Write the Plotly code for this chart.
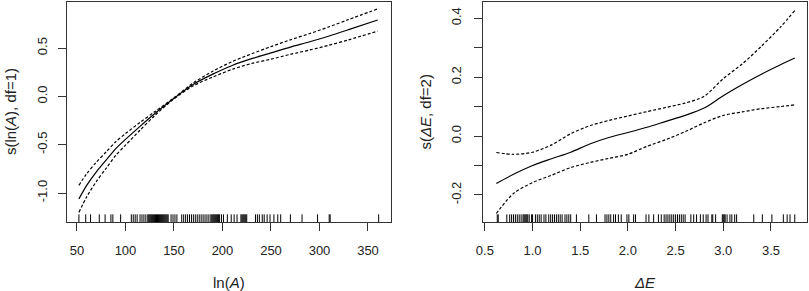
import plotly.graph_objects as go

# left panel: smooth term for ln(A)
lnA_x = [52, 60, 70, 80, 90, 100, 115, 130, 150, 170, 190, 210, 230, 250, 270, 290, 310, 330, 360]
lnA_fit = [-1.06, -0.92, -0.78, -0.66, -0.54, -0.445, -0.31, -0.18, -0.02, 0.125, 0.23, 0.32,
           0.39, 0.45, 0.51, 0.565, 0.625, 0.69, 0.79]
lnA_upper = [-0.92, -0.80, -0.68, -0.575, -0.47, -0.385, -0.27, -0.16, -0.015, 0.14, 0.26, 0.36,
             0.44, 0.515, 0.585, 0.65, 0.72, 0.795, 0.905]
lnA_lower = [-1.20, -1.04, -0.88, -0.745, -0.61, -0.505, -0.35, -0.20, -0.025, 0.11, 0.20, 0.28,
             0.34, 0.385, 0.435, 0.48, 0.53, 0.585, 0.675]
lnA_rug = [52, 59, 64, 73, 79, 85, 87, 95, 106, 108, 110, 112, 115, 117, 119, 121, 123, 124, 125,
           126, 127, 128, 129, 130, 131, 132, 133, 134, 135, 136, 137, 138, 139, 140, 141, 142, 143,
           144, 147, 149, 151, 153, 158, 160, 162, 164, 166, 168, 170, 172, 174, 176, 178, 180, 182,
           184, 186, 188, 189, 190, 191, 192, 193, 194, 195, 196, 197, 199, 201, 205, 209, 212, 215,
           219, 220, 221, 222, 223, 224, 225, 234, 236, 238, 241, 243, 246, 249, 253, 257, 260, 270,
           282, 298, 310, 311, 361]

# right panel: smooth term for delta E
dE_x = [0.62, 0.8, 1.0, 1.2, 1.4, 1.6, 1.8, 2.0, 2.2, 2.4, 2.6, 2.8, 3.0, 3.2, 3.4, 3.6, 3.75]
dE_fit = [-0.161, -0.13, -0.10, -0.077, -0.055, -0.027, -0.005, 0.012, 0.030, 0.050, 0.070,
          0.095, 0.137, 0.175, 0.210, 0.242, 0.265]
dE_upper = [-0.056, -0.062, -0.055, -0.030, 0.008, 0.035, 0.053, 0.068, 0.083, 0.097, 0.112,
            0.135, 0.195, 0.245, 0.305, 0.370, 0.426]
dE_lower = [-0.263, -0.195, -0.158, -0.133, -0.107, -0.090, -0.076, -0.062, -0.035, -0.012,
            0.015, 0.045, 0.070, 0.082, 0.093, 0.100, 0.106]
dE_rug = [0.63, 0.64, 0.73, 0.76, 0.78, 0.80, 0.82, 0.84, 0.86, 0.88, 0.90, 0.91, 0.92, 0.93,
          0.94, 0.95, 0.965, 0.99, 1.00, 1.03, 1.05, 1.07, 1.09, 1.12, 1.14, 1.17, 1.19, 1.21,
          1.23, 1.25, 1.27, 1.29, 1.31, 1.34, 1.36, 1.38, 1.40, 1.46, 1.59, 1.67, 1.76, 1.78, 1.80,
          1.82, 1.85, 1.87, 1.90, 1.93, 1.99, 2.01, 2.06, 2.08, 2.19, 2.22, 2.27, 2.32, 2.35, 2.38,
          2.40, 2.42, 2.44, 2.46, 2.48, 2.50, 2.52, 2.54, 2.56, 2.58, 2.60, 2.66, 2.69, 2.72, 2.76,
          2.79, 2.82, 2.84, 2.88, 2.89, 2.92, 2.99, 3.00, 3.01, 3.02, 3.04, 3.07, 3.09, 3.12, 3.14,
          3.32, 3.41, 3.51, 3.63, 3.67, 3.70, 3.75]

lnA_yticks = [-1.0, -0.5, 0.0, 0.5]
lnA_ylabels = ["-1.0", "-0.5", "0.0", "0.5"]
lnA_xticks = [50, 100, 150, 200, 250, 300, 350]
dE_yticks = [-0.2, -0.1, 0.0, 0.1, 0.2, 0.3, 0.4]
dE_ylabels = ["-0.2", "", "0.0", "", "0.2", "", "0.4"]
dE_xticks = [0.5, 1.0, 1.5, 2.0, 2.5, 3.0, 3.5]
dE_xlabels = ["0.5", "1.0", "1.5", "2.0", "2.5", "3.0", "3.5"]

FONT = "Liberation Sans, Arial, sans-serif"
dash = "3px,2px"

fig = go.Figure()
for xs, fit, up, lo, ax in [(lnA_x, lnA_fit, lnA_upper, lnA_lower, ""),
                            (dE_x, dE_fit, dE_upper, dE_lower, "2")]:
    fig.add_trace(go.Scatter(x=xs, y=fit, mode="lines", xaxis="x" + ax, yaxis="y" + ax,
                             line=dict(color="black", width=1.2, shape="spline", smoothing=0.8)))
    for band in (up, lo):
        fig.add_trace(go.Scatter(x=xs, y=band, mode="lines", xaxis="x" + ax, yaxis="y" + ax,
                                 line=dict(color="black", width=1.2, dash=dash,
                                           shape="spline", smoothing=0.8)))

shapes = []
for vals, ax in [(lnA_rug, ""), (dE_rug, "2")]:
    for v in vals:
        shapes.append(dict(type="line", xref="x" + ax, yref=f"y{ax} domain", x0=v, x1=v,
                           y0=0, y1=0.035, line=dict(color="black", width=1)))

axis_common = dict(showline=True, mirror=True, linecolor="#333", linewidth=1, showgrid=False,
                   zeroline=False, ticks="outside", ticklen=8, tickcolor="#333",
                   automargin=False,
                   tickfont=dict(family=FONT, size=13, color="#222"))

fig.update_layout(
    width=809, height=291, margin=dict(l=0, r=0, t=0, b=0),
    paper_bgcolor="white", plot_bgcolor="white", showlegend=False,
    font=dict(family=FONT, color="#222"),
    shapes=shapes,
    xaxis=dict(domain=[0.0828, 0.4833], range=[39.7, 373.7], tickvals=lnA_xticks,
               anchor="y", ticklabelstandoff=8, **axis_common),
    yaxis=dict(domain=[0.237, 0.993], range=[-1.30, 0.976], tickvals=lnA_yticks,
               ticktext=lnA_ylabels, tickangle=-90, anchor="x", ticklabelstandoff=6,
               **axis_common),
    xaxis2=dict(domain=[0.597, 0.9975], range=[0.48, 3.878], tickvals=dE_xticks,
                ticktext=dE_xlabels, anchor="y2", ticklabelstandoff=8, **axis_common),
    yaxis2=dict(domain=[0.237, 0.993], range=[-0.292, 0.455], tickvals=dE_yticks,
                ticktext=dE_ylabels, tickangle=-90, anchor="x2", ticklabelstandoff=8,
                **axis_common),
    annotations=[
        dict(text="ln(<i>A</i>)", x=0.283, y=1 - 282 / 291, xref="paper", yref="paper",
             xanchor="center", yanchor="middle", showarrow=False,
             font=dict(family=FONT, size=15)),
        dict(text="<i>ΔE</i>", x=0.797, y=1 - 282 / 291, xref="paper", yref="paper",
             xanchor="center", yanchor="middle", showarrow=False,
             font=dict(family=FONT, size=15)),
        dict(text="s(ln(<i>A</i>), df=1)", x=0.0124, y=0.615, xref="paper", yref="paper",
             xanchor="center", yanchor="middle", showarrow=False, textangle=-90,
             font=dict(family=FONT, size=15)),
        dict(text="s(<i>ΔE</i>, df=2)", x=0.526, y=0.615, xref="paper", yref="paper",
             xanchor="center", yanchor="middle", showarrow=False, textangle=-90,
             font=dict(family=FONT, size=15)),
    ],
)

# the page body has a default margin; remove it so the figure fills the window
fig.write_html("out.html", config={"displayModeBar": False},
               post_script="document.body.style.margin='0';")
